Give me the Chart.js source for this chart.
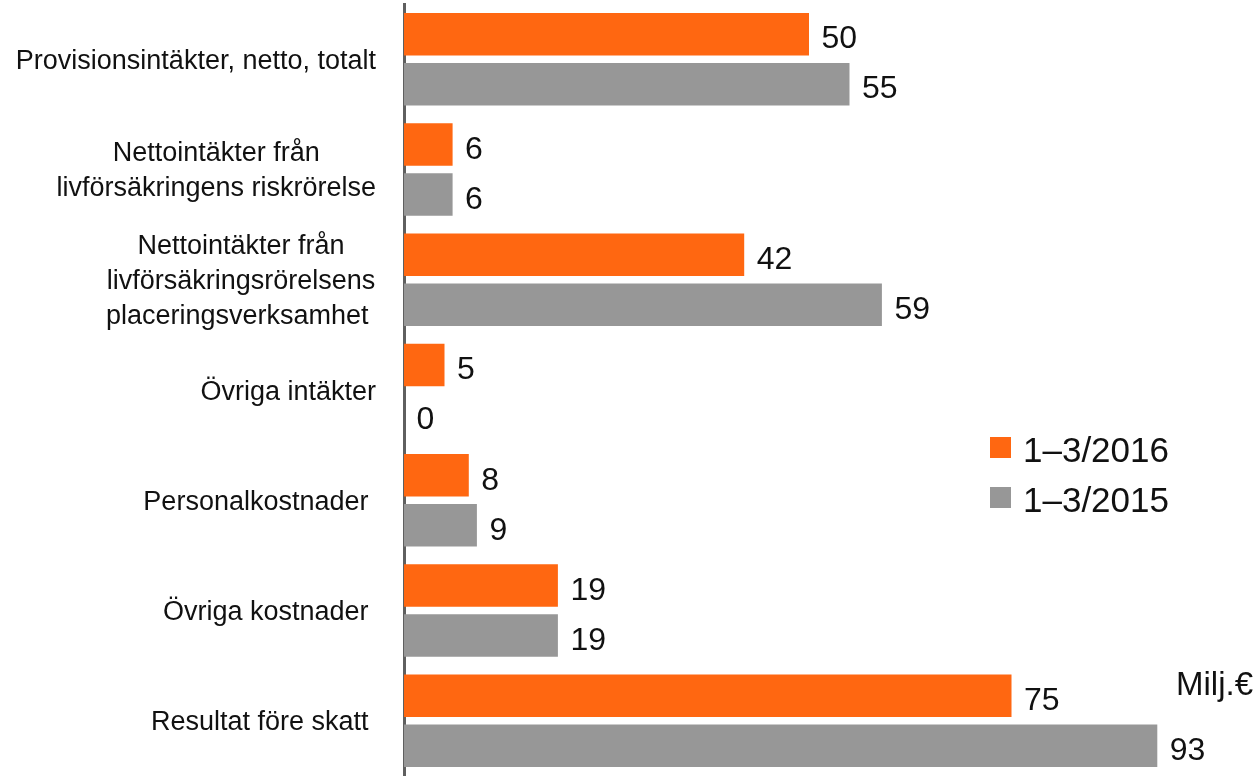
<!DOCTYPE html>
<html>
<head>
<meta charset="utf-8">
<script src="https://cdn.jsdelivr.net/npm/chart.js@4/dist/chart.umd.min.js"></script>
<style>
  html, body { margin: 0; padding: 0; background: #fff; }
  #chart { display: block; }
</style>
</head>
<body>
<canvas id="chart" width="1259" height="776"></canvas>
<script>
// Row labels, one array per row (one entry per text line)
const categories = [
  ["Provisionsintäkter, netto, totalt"],
  ["Nettointäkter från", "livförsäkringens riskrörelse"],
  ["Nettointäkter från", "livförsäkringsrörelsens", "placeringsverksamhet "],
  ["Övriga intäkter"],
  ["Personalkostnader "],
  ["Övriga kostnader "],
  ["Resultat före skatt "],
];
const seriesNames = ["1–3/2016", "1–3/2015"];
const values2016 = [50, 6, 42, 5, 8, 19, 75];
const values2015 = [55, 6, 59, 0, 9, 19, 93];
const unitLabel = "Milj.€";

const ORANGE = "#ff6711";
const GREY = "#979797";
const TEXT = "#111";
const FONT = "'Liberation Sans', Arial, sans-serif";

// Category labels, value labels, legend and unit note
const annotate = {
  id: "annotate",
  afterDraw(chart) {
    const ctx = chart.ctx;
    const yScale = chart.scales.y;
    ctx.save();
    ctx.fillStyle = TEXT;

    // row labels: block right-aligned next to the axis, lines centred in the block
    ctx.font = "27px " + FONT;
    ctx.textBaseline = "alphabetic";
    ctx.textAlign = "center";
    categories.forEach((lines, i) => {
      const cy = yScale.getPixelForTick(i);
      const blockW = Math.max(...lines.map((l) => ctx.measureText(l).width));
      const cx = 376 - blockW / 2;
      const first = cy - ((lines.length - 1) * 35) / 2 + 9.5;
      lines.forEach((l, k) => ctx.fillText(l, cx, first + k * 35));
    });

    // value at the end of each bar
    ctx.font = "32px " + FONT;
    ctx.textAlign = "left";
    chart.data.datasets.forEach((ds, di) => {
      chart.getDatasetMeta(di).data.forEach((bar, i) => {
        ctx.fillText(String(ds.data[i]), bar.x + 12.5, bar.y + 14.3);
      });
    });

    // legend
    const colors = [ORANGE, GREY];
    ctx.font = "35px " + FONT;
    seriesNames.forEach((name, i) => {
      const top = 437 + i * 50;
      ctx.fillStyle = colors[i];
      ctx.fillRect(990, top, 21, 21);
      ctx.fillStyle = TEXT;
      ctx.fillText(name, 1023, top + 25);
    });

    ctx.font = "33px " + FONT;
    ctx.fillText(unitLabel, 1176, 695);
    ctx.restore();
  },
};

new Chart(document.getElementById("chart"), {
  type: "bar",
  data: {
    labels: categories,
    datasets: [
      {
        label: seriesNames[0],
        data: values2016,
        backgroundColor: ORANGE,
        barPercentage: 0.85,
        categoryPercentage: 0.907,
      },
      {
        label: seriesNames[1],
        data: values2015,
        backgroundColor: GREY,
        barPercentage: 0.85,
        categoryPercentage: 0.907,
      },
    ],
  },
  options: {
    indexAxis: "y",
    responsive: false,
    animation: false,
    layout: { padding: { top: 4, right: 45, left: 0, bottom: 0 } },
    scales: {
      x: { display: false, min: 0, max: 100 },
      y: {
        ticks: { display: false },
        grid: { display: false },
        border: { display: true, color: "#5f5f5f", width: 3 },
        afterFit: (s) => { s.width = 404; },
      },
    },
    plugins: {
      legend: { display: false },
      tooltip: { enabled: false },
    },
  },
  plugins: [annotate],
});
</script>
</body>
</html>
